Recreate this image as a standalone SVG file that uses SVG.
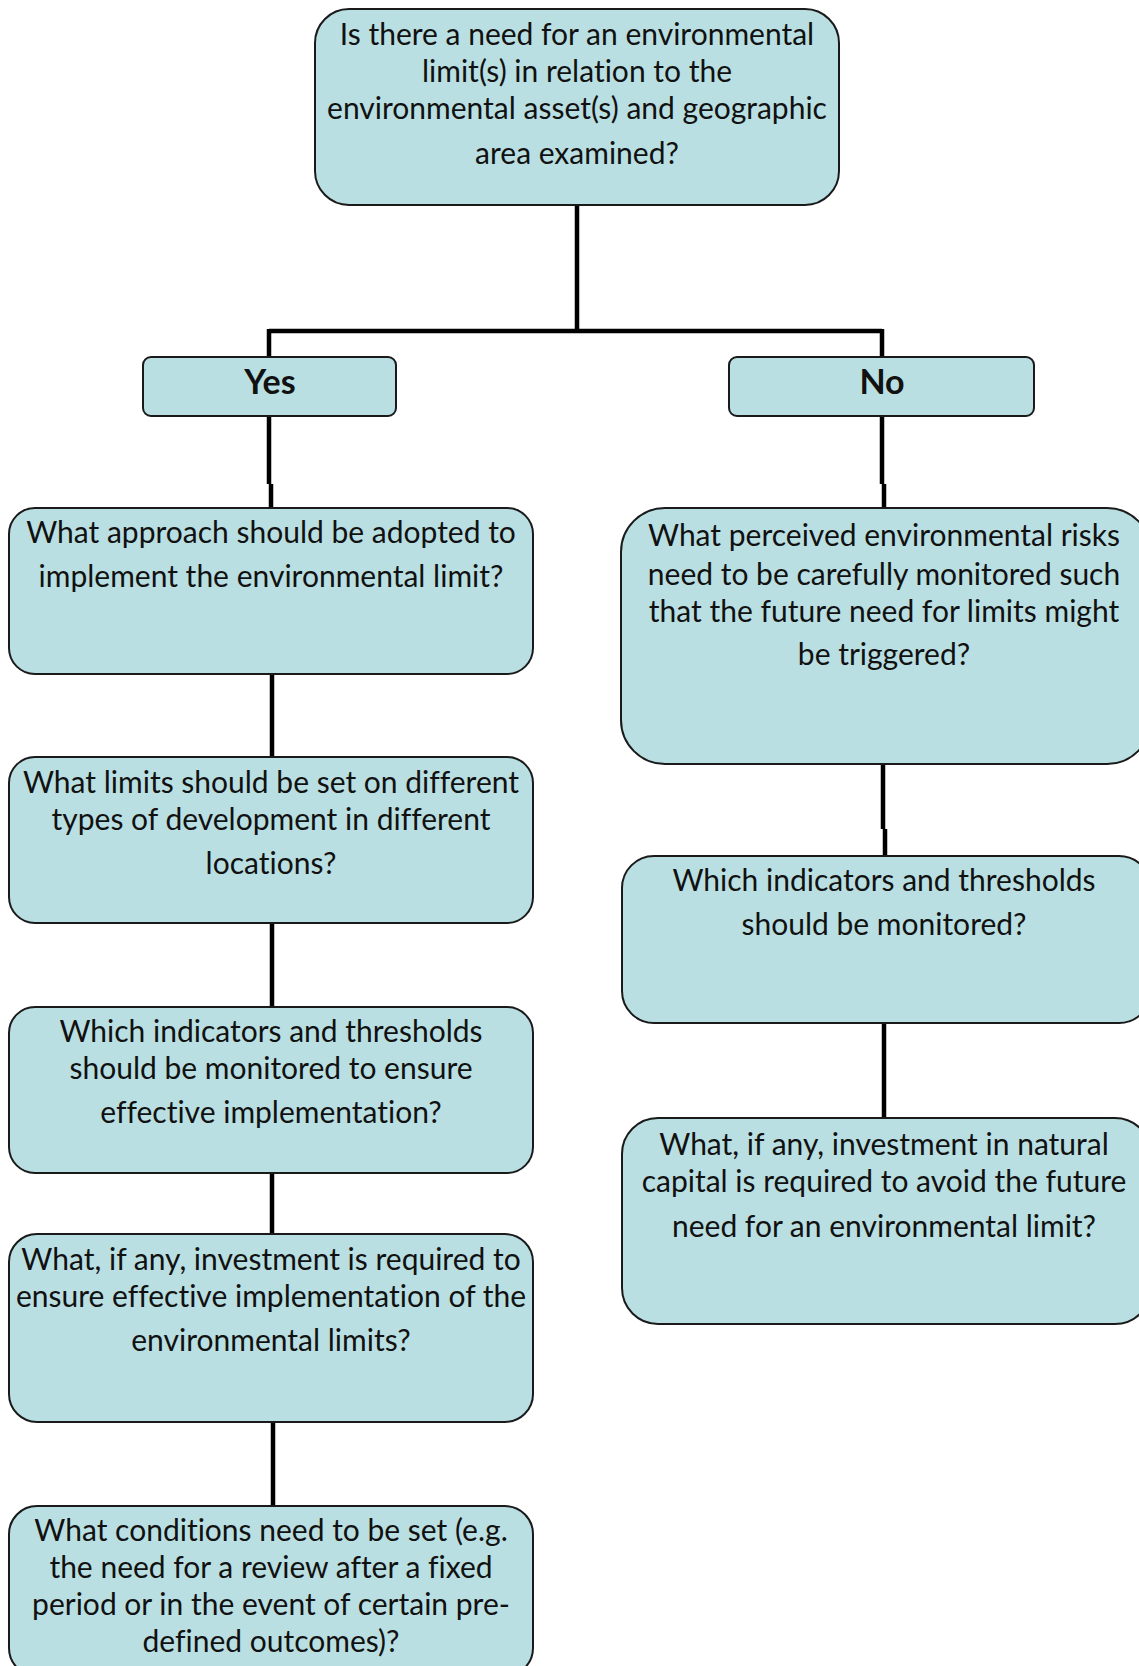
<svg xmlns="http://www.w3.org/2000/svg" width="1139" height="1666" viewBox="0 0 1139 1666">
<style>
.box{fill:#b9dfe2;stroke:#1a1a1a;stroke-width:2}
.t{font-family:Lato,"Open Sans","Liberation Sans",sans-serif;font-size:30px;fill:#111;text-anchor:middle;font-variant-ligatures:none}
.b{font-weight:bold;font-size:34px}
.c{fill:none;stroke:#000;stroke-width:4.5}
</style>
<rect width="1139" height="1666" fill="#fff"/>
<g id="connectors">
<path class="c" d="M577 205 V331 M269 331 H882 M269 329 V357 M882 329 V357"/>
<path class="c" d="M269 416 V484 M271 484 V508"/>
<path class="c" d="M882 416 V484 M884 484 V508"/>
<path class="c" d="M272 674 V757"/>
<path class="c" d="M272 923 V1007"/>
<path class="c" d="M272 1173 V1233"/>
<path class="c" d="M273 1421 V1505"/>
<path class="c" d="M883 764 V829 M885 829 V856"/>
<path class="c" d="M884 1023 V1118"/>
</g>
<g id="root">
<rect class="box" x="315" y="9" width="524" height="196" rx="34"/>
<text class="t" x="577" y="45">Is there a need for an environmental</text>
<text class="t" x="577" y="82">limit(s) in relation to the</text>
<text class="t" x="577" y="119">environmental asset(s) and geographic</text>
<text class="t" x="577" y="164">area examined?</text>
</g>
<g id="yes">
<rect class="box" x="143" y="357" width="253" height="59" rx="8"/>
<text class="t b" x="270" y="394">Yes</text>
</g>
<g id="no">
<rect class="box" x="729" y="357" width="305" height="59" rx="8"/>
<text class="t b" x="882" y="394">No</text>
</g>
<g id="l1">
<rect class="box" x="9" y="508" width="524" height="166" rx="26"/>
<text class="t" x="271" y="543">What approach should be adopted to</text>
<text class="t" x="271" y="587">implement the environmental limit?</text>
</g>
<g id="l2">
<rect class="box" x="9" y="757" width="524" height="166" rx="26"/>
<text class="t" x="271" y="793">What limits should be set on different</text>
<text class="t" x="271" y="830">types of development in different</text>
<text class="t" x="271" y="874">locations?</text>
</g>
<g id="l3">
<rect class="box" x="9" y="1007" width="524" height="166" rx="26"/>
<text class="t" x="271" y="1042">Which indicators and thresholds</text>
<text class="t" x="271" y="1079">should be monitored to ensure</text>
<text class="t" x="271" y="1123">effective implementation?</text>
</g>
<g id="l4">
<rect class="box" x="9" y="1234" width="524" height="188" rx="28"/>
<text class="t" x="271" y="1270">What, if any, investment is required to</text>
<text class="t" x="271" y="1307">ensure effective implementation of the</text>
<text class="t" x="271" y="1351">environmental limits?</text>
</g>
<g id="l5">
<rect class="box" x="9" y="1506" width="524" height="170" rx="28"/>
<text class="t" x="271" y="1541">What conditions need to be set (e.g.</text>
<text class="t" x="271" y="1578">the need for a review after a fixed</text>
<text class="t" x="271" y="1615">period or in the event of certain pre-</text>
<text class="t" x="271" y="1652">defined outcomes)?</text>
</g>
<g id="r1">
<rect class="box" x="621" y="508" width="530" height="256" rx="44"/>
<text class="t" x="884" y="546">What perceived environmental risks</text>
<text class="t" x="884" y="585">need to be carefully monitored such</text>
<text class="t" x="884" y="622">that the future need for limits might</text>
<text class="t" x="884" y="665">be triggered?</text>
</g>
<g id="r2">
<rect class="box" x="622" y="856" width="529" height="167" rx="32"/>
<text class="t" x="884" y="891">Which indicators and thresholds</text>
<text class="t" x="884" y="935">should be monitored?</text>
</g>
<g id="r3">
<rect class="box" x="622" y="1118" width="529" height="206" rx="36"/>
<text class="t" x="884" y="1155">What, if any, investment in natural</text>
<text class="t" x="884" y="1192">capital is required to avoid the future</text>
<text class="t" x="884" y="1237">need for an environmental limit?</text>
</g>
</svg>
